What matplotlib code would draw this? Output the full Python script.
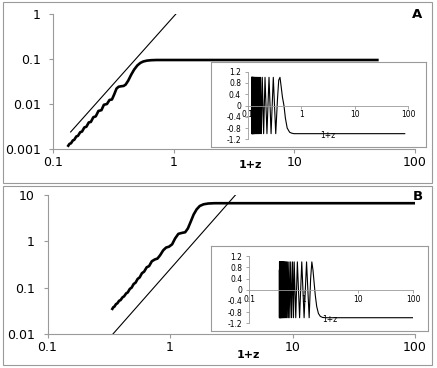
import matplotlib
matplotlib.use("Agg")
import matplotlib.pyplot as plt
from matplotlib.patches import Rectangle

# ---- data ----
# panel A, main curve
a_x = [0.132, 0.137, 0.141, 0.146, 0.150, 0.156, 0.161, 0.168, 0.174, 0.182,
       0.189, 0.198, 0.206, 0.216, 0.226, 0.238, 0.252, 0.264, 0.280, 0.294,
       0.308, 0.322, 0.336, 0.350, 0.368, 0.385, 0.400, 0.420, 0.445, 0.470,
       0.500, 0.530, 0.560, 0.600, 0.650, 0.720, 1.0, 50.0]
a_y = [0.00112, 0.00130, 0.00134, 0.00155, 0.00160, 0.00190, 0.00196, 0.00236, 0.00244, 0.00302,
       0.00312, 0.00390, 0.00400, 0.00510, 0.00530, 0.00700, 0.00730, 0.00960, 0.01000, 0.01230,
       0.01260, 0.01650, 0.02200, 0.02420, 0.02480, 0.02520, 0.02700, 0.03300, 0.04500, 0.05800,
       0.07200, 0.08200, 0.08800, 0.09200, 0.09400, 0.09500, 0.0950, 0.0950]
a_line_x = [0.14, 1.06]
a_line_y = [0.00239, 1.05]

# panel A, inset
ai_x = [0.117, 0.1175, 0.118, 0.1185, 0.119, 0.1195, 0.120, 0.1205, 0.121, 0.1215,
        0.122, 0.1227, 0.1234, 0.1241, 0.1248, 0.1256, 0.1264, 0.1272, 0.128, 0.129,
        0.130, 0.131, 0.132, 0.1335, 0.135, 0.1365, 0.138, 0.140, 0.142, 0.144,
        0.146, 0.1485, 0.151, 0.154, 0.157, 0.1605, 0.164, 0.168, 0.172, 0.178,
        0.185, 0.196, 0.208, 0.226, 0.247, 0.270, 0.297, 0.330, 0.355, 0.375,
        0.396, 0.415, 0.440, 0.470, 0.500, 0.540, 0.600, 0.650, 0.720, 0.800,
        85.0]
ai_y = [1, -1, 1, -1, 1, -1, 1, -1, 1, -1,
        1, -1, 1, -1, 1, -1, 1, -1, 1, -1,
        1, -1, 1, -1, 1, -1, 1, -1, 1, -1,
        1, -1, 1, -1, 1, -1, 1, -1, 1, -1,
        1, -1, 1, -1, 1, -1, 1, -1, 0.2, 0.9,
        1.0, 0.7, 0.3, 0.0, -0.45, -0.8, -0.95, -0.98, -1.0, -1.0,
        -1.0]

# panel B, main curve
b_x = [0.334, 0.345, 0.352, 0.362, 0.372, 0.384, 0.395, 0.410, 0.422, 0.438,
       0.452, 0.470, 0.486, 0.505, 0.523, 0.545, 0.565, 0.590, 0.615, 0.645,
       0.675, 0.710, 0.750, 0.790, 0.830, 0.880, 0.930, 0.980, 1.040, 1.100,
       1.170, 1.250, 1.330, 1.400, 1.480, 1.560, 1.650, 1.750, 1.880, 2.050,
       2.300, 100.0]
b_y = [0.033, 0.038, 0.039, 0.044, 0.046, 0.052, 0.054, 0.062, 0.065, 0.075,
       0.079, 0.094, 0.100, 0.120, 0.128, 0.155, 0.166, 0.205, 0.222, 0.275,
       0.292, 0.370, 0.405, 0.425, 0.500, 0.640, 0.735, 0.765, 0.860, 1.150,
       1.450, 1.520, 1.570, 1.900, 2.700, 3.800, 4.900, 5.800, 6.300, 6.550,
       6.650, 6.650]
b_line_x = [0.34, 3.5]
b_line_y = [0.0098, 10.7]

# panel B, inset
bi_x = [0.354, 0.356, 0.358, 0.360, 0.362, 0.364, 0.366, 0.368, 0.370, 0.3725,
        0.375, 0.3775, 0.380, 0.383, 0.386, 0.389, 0.392, 0.396, 0.400, 0.404,
        0.408, 0.413, 0.418, 0.424, 0.430, 0.437, 0.444, 0.452, 0.460, 0.470,
        0.480, 0.492, 0.505, 0.520, 0.535, 0.553, 0.573, 0.595, 0.620, 0.645,
        0.665, 0.710, 0.760, 0.835, 0.915, 1.010, 1.120, 1.250, 1.330, 1.400,
        1.470, 1.550, 1.620, 1.720, 1.850, 2.000, 2.200, 2.500, 100.0]
bi_y = [0.7, -1, 1, -1, 1, -1, 1, -1, 1, -1,
        1, -1, 1, -1, 1, -1, 1, -1, 1, -1,
        1, -1, 1, -1, 1, -1, 1, -1, 1, -1,
        1, -1, 1, -1, 1, -1, 1, -1, 1, -1,
        1, -1, 1, -1, 1, -1, 1, -1, 0.4, 1.0,
        0.7, 0.2, -0.2, -0.6, -0.85, -0.95, -0.99, -1.0, -1.0]

main_xticks = [0.1, 1, 10, 100]
main_xlabels = ["0.1", "1", "10", "100"]
a_yticks = [0.001, 0.01, 0.1, 1]
a_ylabels = ["0.001", "0.01", "0.1", "1"]
b_yticks = [0.01, 0.1, 1, 10]
b_ylabels = ["0.01", "0.1", "1", "10"]
inset_yticks = [-1.2, -0.8, -0.4, 0, 0.4, 0.8, 1.2]
inset_ylabels = ["-1.2", "-0.8", "-0.4", "0", "0.4", "0.8", "1.2"]

W, H = 437, 368
grey = "#9a9a9a"
plt.rcParams["font.family"] = "DejaVu Sans"

fig = plt.figure(figsize=(W / 100, H / 100), dpi=100)


def fr(x0, y0, x1, y1):
    # pixel box (top-left origin) -> figure fraction rect
    return [x0 / W, 1 - y1 / H, (x1 - x0) / W, (y1 - y0) / H]


def style_main(ax, yticks, ylabels):
    ax.set_xscale("log")
    ax.set_yscale("log")
    ax.set_xlim(0.1, 100)
    ax.set_ylim(yticks[0], yticks[-1])
    for s in ["top", "right"]:
        ax.spines[s].set_visible(False)
    for s in ["left", "bottom"]:
        ax.spines[s].set_color(grey)
        ax.spines[s].set_linewidth(0.8)
    ax.set_xticks(main_xticks)
    ax.set_xticklabels(main_xlabels)
    ax.set_yticks(yticks)
    ax.set_yticklabels(ylabels)
    ax.minorticks_off()
    ax.tick_params(length=3, width=0.8, color=grey, labelsize=9, pad=2)
    ax.tick_params(axis="y", pad=6)
    ax.patch.set_alpha(0)


def style_inset(ax):
    ax.set_xscale("log")
    ax.set_xlim(0.1, 100)
    ax.set_ylim(-1.2, 1.2)
    for s in ["top", "right"]:
        ax.spines[s].set_visible(False)
    ax.spines["bottom"].set_position(("data", 0))
    for s in ["left", "bottom"]:
        ax.spines[s].set_color(grey)
        ax.spines[s].set_linewidth(0.6)
    ax.set_xticks(main_xticks)
    ax.set_xticklabels(main_xlabels)
    ax.set_yticks(inset_yticks)
    ax.set_yticklabels(inset_ylabels)
    ax.minorticks_off()
    ax.tick_params(length=2, width=0.6, color=grey, labelsize=5.5, pad=1.5)
    ax.tick_params(axis="y", pad=3)
    ax.patch.set_alpha(0)


def box(x0, y0, x1, y1, z):
    b = fig.add_axes(fr(x0, y0, x1, y1), zorder=z)
    b.set_xticks([])
    b.set_yticks([])
    for s in b.spines.values():
        s.set_color(grey)
        s.set_linewidth(0.8)
    return b


# panel frames
fig.patches.append(Rectangle((3 / W, 1 - 183 / H), 429 / W, 181 / H, transform=fig.transFigure,
                             fill=False, ec=grey, lw=0.8))
fig.patches.append(Rectangle((3 / W, 1 - 365 / H), 429 / W, 179 / H, transform=fig.transFigure,
                             fill=False, ec=grey, lw=0.8))

# ---- panel A ----
axA = fig.add_axes(fr(53, 14, 415, 149), zorder=1)
axA.plot(a_x, a_y, color="black", lw=1.9, solid_capstyle="butt")
axA.plot(a_line_x, a_line_y, color="black", lw=0.8)
style_main(axA, a_yticks, a_ylabels)
fig.text(250 / W, 1 - 165 / H, "1+z", fontsize=8, fontweight="bold", ha="center", va="center")
fig.text(417 / W, 1 - 14 / H, "A", fontsize=9.5, fontweight="bold", ha="center", va="center")

box(211, 62, 426, 147, 2)
insA = fig.add_axes(fr(248, 71.7, 408.5, 139.3), zorder=3)
insA.plot(ai_x, ai_y, color="black", lw=0.8)
style_inset(insA)
fig.text(328 / W, 1 - 136 / H, "1+z", fontsize=5.5, ha="center", va="center", zorder=4)

# ---- panel B ----
axB = fig.add_axes(fr(47.5, 195, 415, 334), zorder=1)
axB.plot(b_x, b_y, color="black", lw=1.9, solid_capstyle="butt")
axB.plot(b_line_x, b_line_y, color="black", lw=0.8)
style_main(axB, b_yticks, b_ylabels)
fig.text(248 / W, 1 - 355 / H, "1+z", fontsize=8, fontweight="bold", ha="center", va="center")
fig.text(418 / W, 1 - 196 / H, "B", fontsize=9.5, fontweight="bold", ha="center", va="center")

box(211, 246, 428, 331, 2)
insB = fig.add_axes(fr(249.3, 256.3, 413, 323.3), zorder=3)
insB.plot(bi_x, bi_y, color="black", lw=0.8)
style_inset(insB)
fig.text(330 / W, 1 - 320 / H, "1+z", fontsize=5.5, ha="center", va="center", zorder=4)

fig.savefig("out.png", dpi=100)
